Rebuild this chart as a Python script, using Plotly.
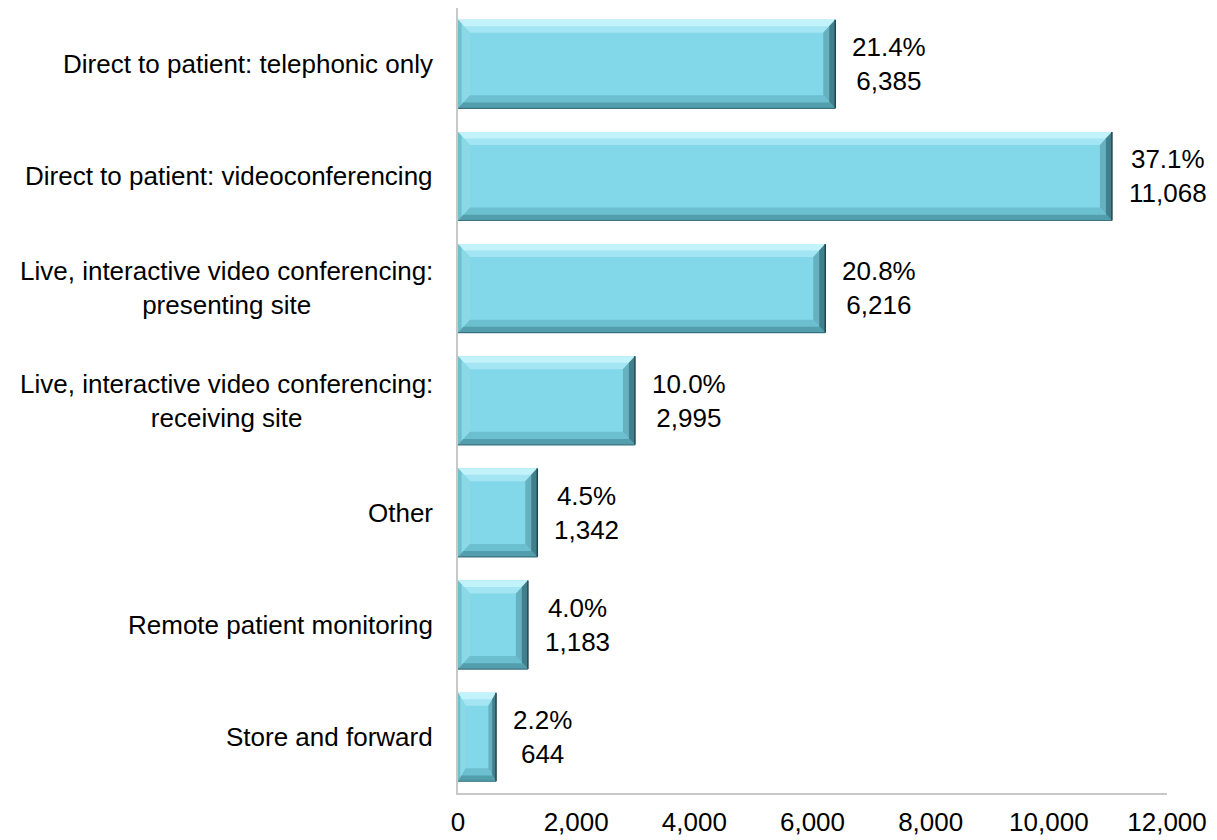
import plotly.graph_objects as go

# data, top to bottom as shown in the chart
categories = [
    "Direct to patient: telephonic only",
    "Direct to patient: videoconferencing",
    "Live, interactive video conferencing:<br>presenting site",
    "Live, interactive video conferencing:<br>receiving site",
    "Other",
    "Remote patient monitoring",
    "Store and forward",
]
counts = [6385, 11068, 6216, 2995, 1342, 1183, 644]
shares = ["21.4%", "37.1%", "20.8%", "10.0%", "4.5%", "4.0%", "2.2%"]
x_ticks = [0, 2000, 4000, 6000, 8000, 10000, 12000]

FONT = "Liberation Sans, Arial, sans-serif"
FS = 26
FILL = "#82d7e8"
W, H = 1217, 840
# page body adds an 8px offset, margins compensate for it
M = dict(l=450, r=58, t=0, b=55)
X_MAX = 12000
BAR_W = 0.79

n = len(categories)
ypos = [n - 1 - i for i in range(n)]

# pixel -> data unit conversion for the bevel edges
px_x = (W - M["l"] - M["r"]) / X_MAX
px_y = (H - M["t"] - M["b"]) / n

fig = go.Figure()
fig.add_trace(go.Bar(
    x=counts, y=ypos, orientation="h", width=BAR_W,
    marker=dict(color=FILL, line=dict(width=0)),
    hoverinfo="skip", showlegend=False,
))


def poly(pts):
    return "M " + " L ".join(f"{a},{b}" for a, b in pts) + " Z"


shapes = []
for v, y in zip(counts, ypos):
    h = BAR_W / 2
    dx = min(12, 0.2 * v * px_x) / px_x
    dy = 13 / px_y
    top, bot = y + h, y - h
    bevels = [
        # top (light)
        ([(0, top), (v, top), (v - dx, top - dy), (dx, top - dy)], "#a3e5f2"),
        ([(0, top), (v, top), (v - dx * 0.5, top - dy * 0.5), (dx * 0.5, top - dy * 0.5)], "#c2f2fa"),
        # left
        ([(0, bot), (0, top), (dx, top - dy), (dx, bot + dy)], "#8dd8e7"),
        ([(0, bot), (0, top), (dx * 0.3, top - dy * 0.3), (dx * 0.3, bot + dy * 0.3)], "#6fbfce"),
        # bottom
        ([(0, bot), (v, bot), (v - dx, bot + dy), (dx, bot + dy)], "#6cbfcf"),
        ([(0, bot), (v, bot), (v - dx * 0.45, bot + dy * 0.45), (dx * 0.45, bot + dy * 0.45)], "#529eac"),
        # right (dark)
        ([(v, bot), (v, top), (v - dx, top - dy), (v - dx, bot + dy)], "#66b0bf"),
        ([(v, bot), (v, top), (v - dx * 0.5, top - dy * 0.5), (v - dx * 0.5, bot + dy * 0.5)], "#427f8c"),
    ]
    for pts, col in bevels:
        shapes.append(dict(type="path", xref="x", yref="y", path=poly(pts),
                           fillcolor=col, line=dict(width=0), layer="above"))
    shapes.append(dict(type="line", xref="x", yref="y", x0=v, x1=v, y0=bot, y1=top,
                       line=dict(color="#22484f", width=1.5), layer="above"))
    shapes.append(dict(type="line", xref="x", yref="y", x0=0, x1=v, y0=bot, y1=bot,
                       line=dict(color="#3a7380", width=1.2), layer="above"))

annotations = []
for cat, y in zip(categories, ypos):
    annotations.append(dict(
        x=0, xref="paper", y=y, yref="y", text=cat, showarrow=False,
        xanchor="right", yanchor="middle", align="center", xshift=-23,
        font=dict(family=FONT, size=FS, color="#000000"),
    ))
for v, s, y in zip(counts, shares, ypos):
    annotations.append(dict(
        x=v, xref="x", y=y, yref="y", text=f"{s}<br>{v:,}", showarrow=False,
        xanchor="left", yanchor="middle", align="center", xshift=15,
        font=dict(family=FONT, size=FS, color="#000000"),
    ))

fig.update_layout(
    width=W, height=H, margin=M,
    paper_bgcolor="white", plot_bgcolor="white",
    shapes=shapes, annotations=annotations,
    font=dict(family=FONT, size=FS, color="#000000"),
)
fig.update_xaxes(
    range=[0, X_MAX], tickvals=x_ticks, tickformat=",d",
    showgrid=False, zeroline=False, showline=True, linecolor="#c8c8c8", linewidth=1.5,
    ticks="", ticklabelstandoff=5,
    tickfont=dict(family=FONT, size=FS, color="#000000"),
)
fig.update_yaxes(
    range=[-0.5, n - 0.5], showticklabels=False, showgrid=False, zeroline=False,
    showline=True, linecolor="#c8c8c8", linewidth=1.5, ticks="",
)

fig.write_html("out.html")
